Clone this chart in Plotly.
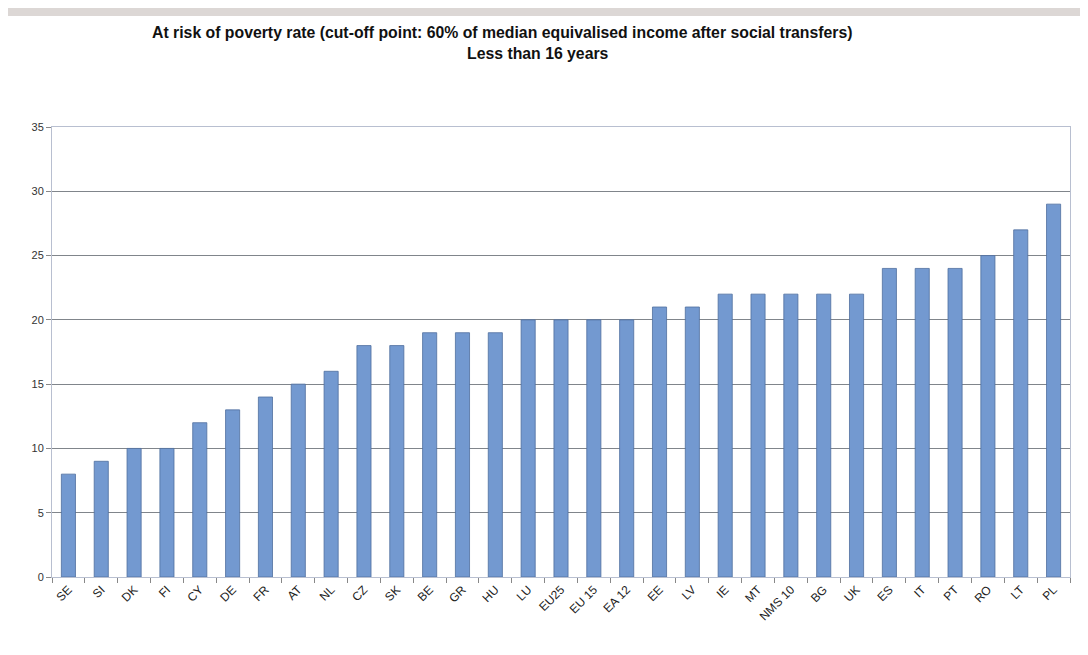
import plotly.graph_objects as go

categories = ["SE", "SI", "DK", "FI", "CY", "DE", "FR", "AT", "NL", "CZ", "SK", "BE", "GR", "HU",
              "LU", "EU25", "EU 15", "EA 12", "EE", "LV", "IE", "MT", "NMS 10", "BG", "UK", "ES",
              "IT", "PT", "RO", "LT", "PL"]
values = [8, 9, 10, 10, 12, 13, 14, 15, 16, 18, 18, 19, 19, 19,
          20, 20, 20, 20, 21, 21, 22, 22, 22, 22, 22, 24,
          24, 24, 25, 27, 29]
y_ticks = [0, 5, 10, 15, 20, 25, 30, 35]

title_line1 = "At risk of poverty rate (cut-off point: 60% of median equivalised income after social transfers)"
title_line2 = "Less than 16 years"

OFF = 8  # page body margin
W, H = 1080, 647
L, R, T, B = 52 - OFF, 18, 127 - OFF, 78
pw, ph = W - L - R, H - T - B

def px_x(x):
    return (x - OFF - L) / pw

def px_y(y):
    return (H - B - (y - OFF)) / ph

fig = go.Figure()
fig.add_trace(go.Bar(
    x=categories, y=values,
    marker=dict(color="#7399d0", line=dict(color="#4f6f9e", width=0.8)),
    width=0.43,
))

font_fam = "Liberation Sans Narrow, Arial Narrow, Liberation Sans, Arial, sans-serif"

fig.update_layout(
    width=W, height=H,
    margin=dict(l=L, r=R, t=T, b=B),
    paper_bgcolor="white", plot_bgcolor="white",
    showlegend=False,
    xaxis=dict(
        tickangle=-45, tickfont=dict(size=12, color="#222", family="Liberation Sans, Arial"),
        showgrid=False, showline=True, linecolor="#b8bfd0", linewidth=1,
        ticks="outside", tickson="boundaries", ticklen=5, tickcolor="#888",
        mirror=True,
    ),
    yaxis=dict(
        range=[0, 35], tickvals=y_ticks,
        tickfont=dict(size=11, color="#333", family="Liberation Sans, Arial"),
        showgrid=True, gridcolor="#80858b", gridwidth=1,
        showline=True, linecolor="#b8bfd0", linewidth=1, mirror=True,
        ticks="outside", ticklen=5, tickcolor="#888", zeroline=False,
    ),
    annotations=[
        dict(text="<b>" + title_line1 + "</b>", x=px_x(502), y=px_y(32), xref="paper", yref="paper",
             showarrow=False, xanchor="center", yanchor="middle",
             font=dict(size=15.8, color="#111", family=font_fam)),
        dict(text="<b>" + title_line2 + "</b>", x=px_x(538), y=px_y(53), xref="paper", yref="paper",
             showarrow=False, xanchor="center", yanchor="middle",
             font=dict(size=15.8, color="#111", family=font_fam)),
    ],
    shapes=[
        dict(type="rect", xref="paper", yref="paper", x0=px_x(0), x1=px_x(1088), y0=px_y(16), y1=px_y(8),
             fillcolor="#dcd7d5", line=dict(width=0), layer="below"),
        dict(type="line", xref="paper", yref="paper", x0=px_x(1084), x1=px_x(1084), y0=px_y(655), y1=px_y(16),
             line=dict(color="#dcd7d5", width=2)),
    ],
    bargap=0.56,
)

fig.write_html("out.html")
